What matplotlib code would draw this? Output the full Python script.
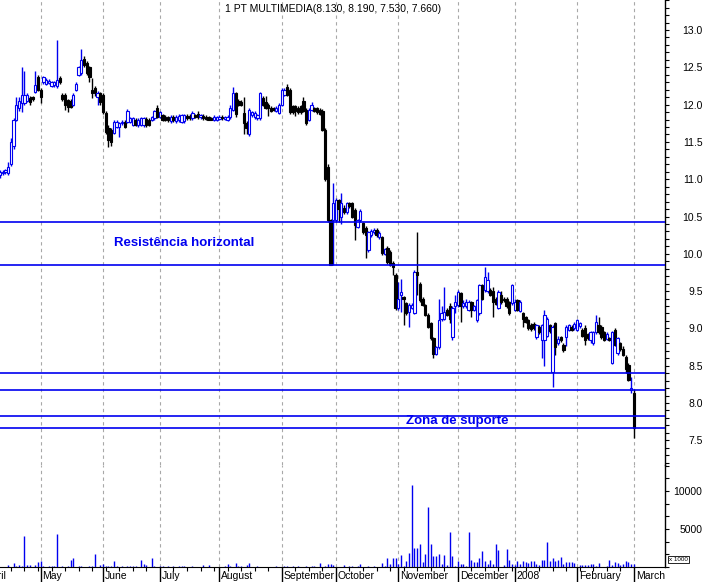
import matplotlib.pyplot as plt
import matplotlib.ticker as mticker
import matplotlib.transforms as mtransforms
import numpy as np
import pandas as pd

plt.rcParams['font.family'] = ['Liberation Sans', 'DejaVu Sans']

title = '1 PT MULTIMEDIA(8.130, 8.190, 7.530, 7.660)'
first_day = '2007-04-10'

# daily OHLC (Apr 10 2007 .. Mar 3 2008)
opens = [
    11.05, 11.08, 11.10, 11.08, 11.20, 11.45, 11.80, 11.95, 12.02, 12.02, 12.05, 12.09, 12.10, 12.17, 12.37,
    12.20, 12.30, 12.28, 12.29, 12.25, 12.26, 12.25, 12.36, 12.13, 12.13, 12.06, 12.05, 12.00, 12.20, 12.40,
    12.42, 12.61, 12.56, 12.50, 12.20, 12.22, 12.10, 12.15,
    12.13, 11.89, 11.69, 11.66, 11.62, 11.70, 11.70, 11.75, 11.77, 11.77, 11.77, 11.73, 11.80, 11.72, 11.73,
    11.72, 11.81, 11.80, 11.80, 11.82, 11.95,
    11.84, 11.86, 11.84, 11.83, 11.78, 11.84, 11.78, 11.79, 11.77, 11.78, 11.85, 11.85, 11.82, 11.86, 11.88,
    11.83, 11.85, 11.84, 11.83, 11.82, 11.80, 11.80,
    11.81, 11.84, 11.81, 11.80, 11.83, 11.93, 12.15, 12.05, 12.04, 11.89, 11.75, 11.60, 11.86, 11.83, 11.82,
    11.82, 12.09, 12.03, 12.00, 11.96, 11.95, 11.92, 11.89,
    12.00, 12.13, 12.24, 12.20, 11.98, 11.98, 11.96, 11.98, 12.05, 11.93, 11.80, 11.93, 11.95, 11.95, 11.93,
    11.92, 11.66, 11.17, 10.45, 10.45,
    10.45, 10.72, 10.50, 10.62, 10.56, 10.68, 10.68, 10.59, 10.36, 10.45, 10.41, 10.35, 10.05, 10.25, 10.29,
    10.32, 10.22, 10.22, 10.00, 10.08, 10.03, 9.88, 9.72,
    9.27, 9.45, 9.42, 9.34, 9.22, 9.28, 9.21, 9.76, 9.60, 9.40, 9.31, 9.18, 9.07, 8.87, 8.66,
    8.75, 9.12, 9.13, 9.25, 9.30, 8.88, 9.30,
    9.31, 9.47, 9.30, 9.30, 9.25, 9.35, 9.25, 9.11, 9.20, 9.58, 9.51, 9.50, 9.52, 9.50, 9.40,
    9.28, 9.45, 9.40, 9.40, 9.35, 9.34,
    9.25, 9.38, 9.24, 9.20, 9.15, 9.11, 9.05, 9.06, 8.88, 9.02, 8.85, 8.85, 8.90, 9.04, 8.42,
    9.07, 8.80, 8.88, 8.78, 8.88, 8.98, 9.02, 9.00,
    8.98, 9.03, 8.98, 9.00, 8.92, 8.85, 8.80, 8.95, 9.05, 9.02, 8.95, 8.86, 8.87, 8.54, 8.98,
    8.67, 8.80, 8.72, 8.62, 8.51, 8.17, 8.13,
]
highs = [
    11.12, 11.12, 11.14, 11.23, 11.55, 11.82, 12.10, 12.10, 12.50, 12.45, 12.16, 12.12, 12.12, 12.45, 12.40,
    12.22, 12.38, 12.35, 12.34, 12.32, 12.32, 12.87, 12.38, 12.15, 12.15, 12.08, 12.07, 12.15, 12.30, 12.52,
    12.75, 12.65, 12.58, 12.52, 12.36, 12.25, 12.18, 12.17,
    12.15, 11.92, 11.72, 11.68, 11.79, 11.79, 11.77, 11.79, 11.79, 11.94, 11.84, 11.84, 11.82, 11.82, 11.84,
    11.84, 11.83, 11.82, 11.85, 11.93, 12.00,
    11.92, 11.88, 11.86, 11.85, 11.86, 11.86, 11.86, 11.87, 11.88, 11.88, 11.87, 11.87, 11.91, 11.88, 11.91,
    11.88, 11.87, 11.86, 11.85, 11.84, 11.86, 11.85,
    11.86, 11.86, 11.85, 11.86, 12.00, 12.24, 12.17, 12.08, 12.06, 12.10, 11.78, 11.95, 11.92, 11.91, 11.88,
    12.17, 12.11, 12.12, 12.02, 11.98, 11.97, 11.98, 12.02,
    12.22, 12.22, 12.28, 12.22, 12.00, 12.00, 11.98, 12.00, 12.10, 11.95, 11.95, 12.03, 11.97, 11.97, 11.95,
    11.94, 11.68, 11.20, 10.47, 10.95,
    10.75, 10.74, 10.82, 10.66, 10.70, 10.70, 10.70, 10.61, 10.47, 10.60, 10.43, 10.37, 10.31, 10.33, 10.35,
    10.34, 10.30, 10.24, 10.08, 10.10, 10.05, 9.90, 9.74,
    9.62, 9.66, 9.44, 9.36, 9.34, 9.34, 9.78, 10.29, 9.62, 9.42, 9.33, 9.20, 9.09, 8.89, 8.77,
    9.40, 9.30, 9.56, 9.27, 9.34, 9.30, 9.45,
    9.51, 9.49, 9.38, 9.40, 9.38, 9.37, 9.32, 9.40, 9.60, 9.60, 9.82, 9.75, 9.54, 9.55, 9.42,
    9.51, 9.50, 9.42, 9.42, 9.37, 9.60,
    9.40, 9.40, 9.38, 9.22, 9.17, 9.13, 9.07, 9.08, 9.06, 9.04, 9.06, 9.25, 9.15, 9.06, 9.04,
    9.09, 8.90, 8.90, 8.80, 9.04, 9.06, 9.04, 9.08,
    9.13, 9.09, 9.00, 9.05, 8.94, 8.97, 8.97, 9.18, 9.15, 9.04, 8.97, 8.95, 8.89, 8.97, 9.00,
    8.89, 8.82, 8.76, 8.64, 8.53, 8.35, 8.19,
]
lows = [
    11.02, 11.05, 11.07, 11.06, 11.18, 11.40, 11.78, 11.92, 11.90, 12.00, 12.03, 12.00, 12.05, 12.15, 12.18,
    12.02, 12.28, 12.26, 12.27, 12.23, 12.24, 12.22, 12.28, 12.05, 11.93, 11.90, 11.95, 11.98, 12.18, 12.38,
    12.40, 12.50, 12.40, 12.30, 12.09, 12.12, 12.00, 12.00,
    11.88, 11.60, 11.43, 11.44, 11.60, 11.68, 11.57, 11.73, 11.68, 11.75, 11.75, 11.71, 11.71, 11.70, 11.71,
    11.70, 11.70, 11.71, 11.78, 11.80, 11.82,
    11.82, 11.78, 11.78, 11.77, 11.76, 11.77, 11.76, 11.77, 11.75, 11.76, 11.80, 11.80, 11.80, 11.82, 11.81,
    11.81, 11.80, 11.79, 11.79, 11.79, 11.78, 11.78,
    11.79, 11.80, 11.79, 11.78, 11.81, 11.91, 11.84, 11.98, 11.98, 11.60, 11.60, 11.58, 11.84, 11.81, 11.80,
    11.80, 11.98, 11.94, 11.85, 11.90, 11.91, 11.90, 11.87,
    11.98, 12.11, 12.11, 11.88, 11.88, 11.85, 11.88, 11.88, 11.90, 11.73, 11.78, 11.91, 11.90, 11.88, 11.86,
    11.64, 10.97, 10.43, 9.85, 9.85,
    10.43, 10.42, 10.40, 10.54, 10.54, 10.62, 10.48, 10.18, 10.34, 10.43, 10.27, 9.95, 10.03, 10.23, 10.27,
    10.23, 10.20, 9.99, 9.98, 9.87, 9.83, 9.72, 9.25,
    9.25, 9.22, 9.04, 9.18, 9.02, 9.26, 9.19, 9.45, 9.36, 9.30, 9.16, 9.00, 8.85, 8.60, 8.64,
    8.73, 9.10, 9.11, 9.16, 9.07, 8.85, 9.20,
    9.29, 9.09, 9.28, 9.28, 9.23, 9.15, 9.23, 9.09, 9.18, 9.38, 9.49, 9.48, 9.43, 9.15, 9.31,
    9.26, 9.33, 9.36, 9.28, 9.18, 9.32,
    9.23, 9.23, 9.22, 9.02, 9.07, 8.98, 8.97, 8.98, 8.86, 8.93, 8.60, 8.50, 8.88, 8.94, 8.21,
    8.64, 8.78, 8.82, 8.69, 8.76, 8.96, 8.96, 8.98,
    8.96, 9.01, 8.88, 8.78, 8.85, 8.80, 8.78, 8.93, 8.93, 8.86, 8.83, 8.84, 8.83, 8.52, 8.76,
    8.65, 8.70, 8.63, 8.40, 8.29, 8.13, 7.53,
]
closes = [
    11.10, 11.10, 11.12, 11.16, 11.50, 11.80, 12.00, 12.05, 12.13, 12.13, 12.13, 12.03, 12.08, 12.26, 12.20,
    12.10, 12.37, 12.33, 12.32, 12.30, 12.30, 12.33, 12.30, 12.07, 12.00, 11.97, 11.97, 12.13, 12.28, 12.50,
    12.60, 12.53, 12.42, 12.37, 12.15, 12.15, 12.15, 12.03,
    11.90, 11.63, 11.53, 11.50, 11.77, 11.77, 11.75, 11.77, 11.70, 11.92, 11.82, 11.82, 11.73, 11.80, 11.82,
    11.82, 11.72, 11.73, 11.83, 11.91, 11.84,
    11.90, 11.80, 11.80, 11.79, 11.84, 11.79, 11.84, 11.85, 11.86, 11.86, 11.82, 11.82, 11.89, 11.84, 11.83,
    11.86, 11.82, 11.81, 11.80, 11.80, 11.84, 11.83,
    11.84, 11.82, 11.83, 11.83, 11.95, 12.15, 11.88, 12.00, 12.00, 11.75, 11.69, 11.93, 11.90, 11.89, 11.86,
    12.15, 12.00, 11.96, 11.95, 11.92, 11.93, 11.96, 12.00,
    12.20, 12.20, 12.13, 11.90, 11.90, 11.92, 11.90, 11.90, 11.92, 11.75, 11.93, 12.00, 11.92, 11.90, 11.88,
    11.66, 11.00, 10.45, 9.85, 10.68,
    10.72, 10.60, 10.68, 10.56, 10.68, 10.64, 10.50, 10.39, 10.45, 10.58, 10.29, 10.25, 10.29, 10.30, 10.32,
    10.25, 10.28, 10.01, 10.06, 9.89, 9.85, 9.82, 9.27,
    9.40, 9.49, 9.40, 9.20, 9.32, 9.32, 9.76, 9.72, 9.38, 9.32, 9.18, 9.02, 8.87, 8.66, 8.75,
    9.11, 9.20, 9.22, 9.18, 9.12, 9.27, 9.35,
    9.49, 9.30, 9.34, 9.36, 9.36, 9.25, 9.30, 9.38, 9.58, 9.40, 9.69, 9.65, 9.45, 9.35, 9.33,
    9.49, 9.35, 9.38, 9.30, 9.20, 9.58,
    9.36, 9.25, 9.36, 9.12, 9.09, 9.00, 8.99, 9.00, 9.04, 8.95, 9.04, 9.18, 9.13, 8.96, 9.02,
    8.75, 8.86, 8.84, 8.71, 9.02, 9.04, 8.98, 9.06,
    9.11, 9.07, 8.90, 8.84, 8.87, 8.95, 8.95, 9.09, 8.95, 8.88, 8.85, 8.93, 8.85, 8.95, 8.78,
    8.87, 8.72, 8.65, 8.45, 8.31, 8.20, 7.66,
]
# volume in thousands
volumes = [
    0, 0, 0, 260, 0, 530, 130, 260, 130, 4080, 260, 260, 0, 260, 700,
    800, 130, 0, 130, 130, 130, 4390, 0, 130, 0, 130, 920, 1180, 0, 130, 130, 0, 0, 130, 130, 1710, 0, 260,
    400, 130, 130, 130, 800, 130, 0, 130, 0, 130, 130, 130, 130, 0, 970, 350, 260, 0, 1230, 130, 0,
    180, 130, 0, 130, 0, 130, 0, 180, 130, 130, 0, 0, 130, 0, 0, 0, 260, 0, 260, 0, 0, 0,
    0, 0, 180, 350, 130, 0, 530, 130, 130, 0, 260, 530, 0, 0, 130, 0, 0, 0, 0, 0, 0, 130, 0,
    0, 130, 130, 0, 130, 0, 130, 0, 0, 130, 0, 130, 130, 0, 530, 0, 130, 350, 350, 260,
    0, 0, 0, 260, 0, 130, 130, 0, 130, 350, 0, 0, 130, 0, 130, 0, 0, 530, 130, 1140, 350, 1140, 1140,
    350, 1540, 130, 800, 1840, 10750, 2540, 2540, 2980, 660, 1670, 7900, 2980, 1450, 1450, 1670, 350,
    1580, 260, 4600, 1450, 130,
    800, 400, 350, 130, 4600, 920, 660, 660, 1230, 2100, 800, 350, 920, 350, 2980, 2240, 0, 260, 2410,
    920, 400,
    260, 800, 400, 800, 660, 530, 800, 800, 400, 260, 970, 970, 3290, 800, 1140, 800, 920, 1320, 350,
    660, 660, 660, 530,
    0, 260, 260, 260, 260, 350, 350, 130, 480, 0, 0, 130, 920, 260, 660, 530, 260, 350, 800, 660, 350, 350,
]

levels = [10.42, 9.846, 8.398, 8.17, 7.82, 7.66]
notes = ['Resistência horizontal', 'Zona de suporte']
note_at = [(67.9, 10.145), (168.7, 7.765)]

BLUE = '#0000f0'
GRID = '#a8a8a8'

dates = pd.bdate_range(first_day, periods=len(closes))
x = np.arange(len(closes))
o = np.array(opens)
h = np.array(highs)
l = np.array(lows)
c = np.array(closes)
up = c >= o
edge = np.where(up, BLUE, 'black')
face = np.where(up, 'white', 'black')

fig = plt.figure(figsize=(7.07, 5.82), dpi=100)
ax = fig.add_axes([0, 0.201, 0.9406, 0.799])
axv = fig.add_axes([0, 0.0258, 0.9406, 0.1753])

# month starts
starts = [i for i in range(1, len(dates)) if dates[i].month != dates[i - 1].month]
april_pos = -len(pd.bdate_range('2007-04-02', '2007-04-09'))
tick_pos = [april_pos] + starts
tick_lab = ['April'] + ['2008' if dates[i].month == 1 else dates[i].strftime('%B') for i in starts]
mondays = np.where(dates.dayofweek == 0)[0]

for a in (ax, axv):
    for p in starts:
        a.axvline(p, color=GRID, lw=0.8, ls=(0, (3, 3)), zorder=1)
    for s in ('top', 'left'):
        a.spines[s].set_visible(False)
    a.spines['right'].set_linewidth(1.0)
    a.yaxis.tick_right()
    a.patch.set_visible(False)

# candles
ax.vlines(x, l, h, colors=edge, lw=1.0, zorder=2)
ax.bar(x, np.abs(c - o), bottom=np.minimum(o, c), width=0.85, color=face,
       edgecolor=edge, linewidth=0.8, zorder=3)

for lev in levels:
    ax.axhline(lev, color=BLUE, lw=1.2, zorder=4)

for txt, (nx, ny) in zip(notes, note_at):
    ax.text(nx, ny, txt, color=BLUE, fontsize=9.5, fontweight='bold',
            ha='center', va='center', zorder=5)

ax.spines['bottom'].set_visible(False)
ax.set_ylim(7.169, 13.402)
ax.set_yticks(np.arange(7.5, 13.01, 0.5))
ax.yaxis.set_major_formatter(mticker.FormatStrFormatter('%.1f'))
ax.yaxis.set_minor_locator(mticker.MultipleLocator(0.1))
ax.tick_params(axis='y', which='both', direction='out', length=3, width=0.8,
               labelsize=7.5, pad=24)
ax.tick_params(axis='x', which='both', bottom=False, labelbottom=False)
for t in ax.get_yticklabels():
    t.set_horizontalalignment('right')

# volume
axv.vlines(x, 0, volumes, colors=BLUE, lw=1.0, zorder=2)
axv.set_ylim(0, 13421)
axv.set_yticks([5000, 10000])
axv.yaxis.set_minor_locator(mticker.AutoMinorLocator(3))
axv.tick_params(axis='y', which='both', direction='out', length=3, width=0.8,
                labelsize=7.5, pad=24)
for t in axv.get_yticklabels():
    t.set_horizontalalignment('right')

axv.set_xticks(tick_pos)
axv.set_xticklabels([])
axv.set_xticks(mondays, minor=True)
axv.tick_params(axis='x', which='major', direction='out', length=11, width=1.0)
axv.tick_params(axis='x', which='minor', direction='out', length=3, width=0.8)
trans = mtransforms.blended_transform_factory(axv.transData, axv.transAxes)
for p, lab in zip(tick_pos, tick_lab):
    axv.text(p + 0.7, -0.085, lab, transform=trans, fontsize=7.5,
             ha='left', va='center', clip_on=False)

# x range set last so that the ticks do not widen it
for a in (ax, axv):
    a.set_xlim(-0.03, 245.5)

fig.text(0.471, 0.9845, title, fontsize=7.5, ha='center', va='center')
fig.text(0.960, 0.038, 'x 1000', fontsize=4.5, ha='center', va='center',
         bbox=dict(boxstyle='square,pad=0.15', fc='white', ec='black', lw=0.6))

fig.savefig('out.png', dpi=100)
